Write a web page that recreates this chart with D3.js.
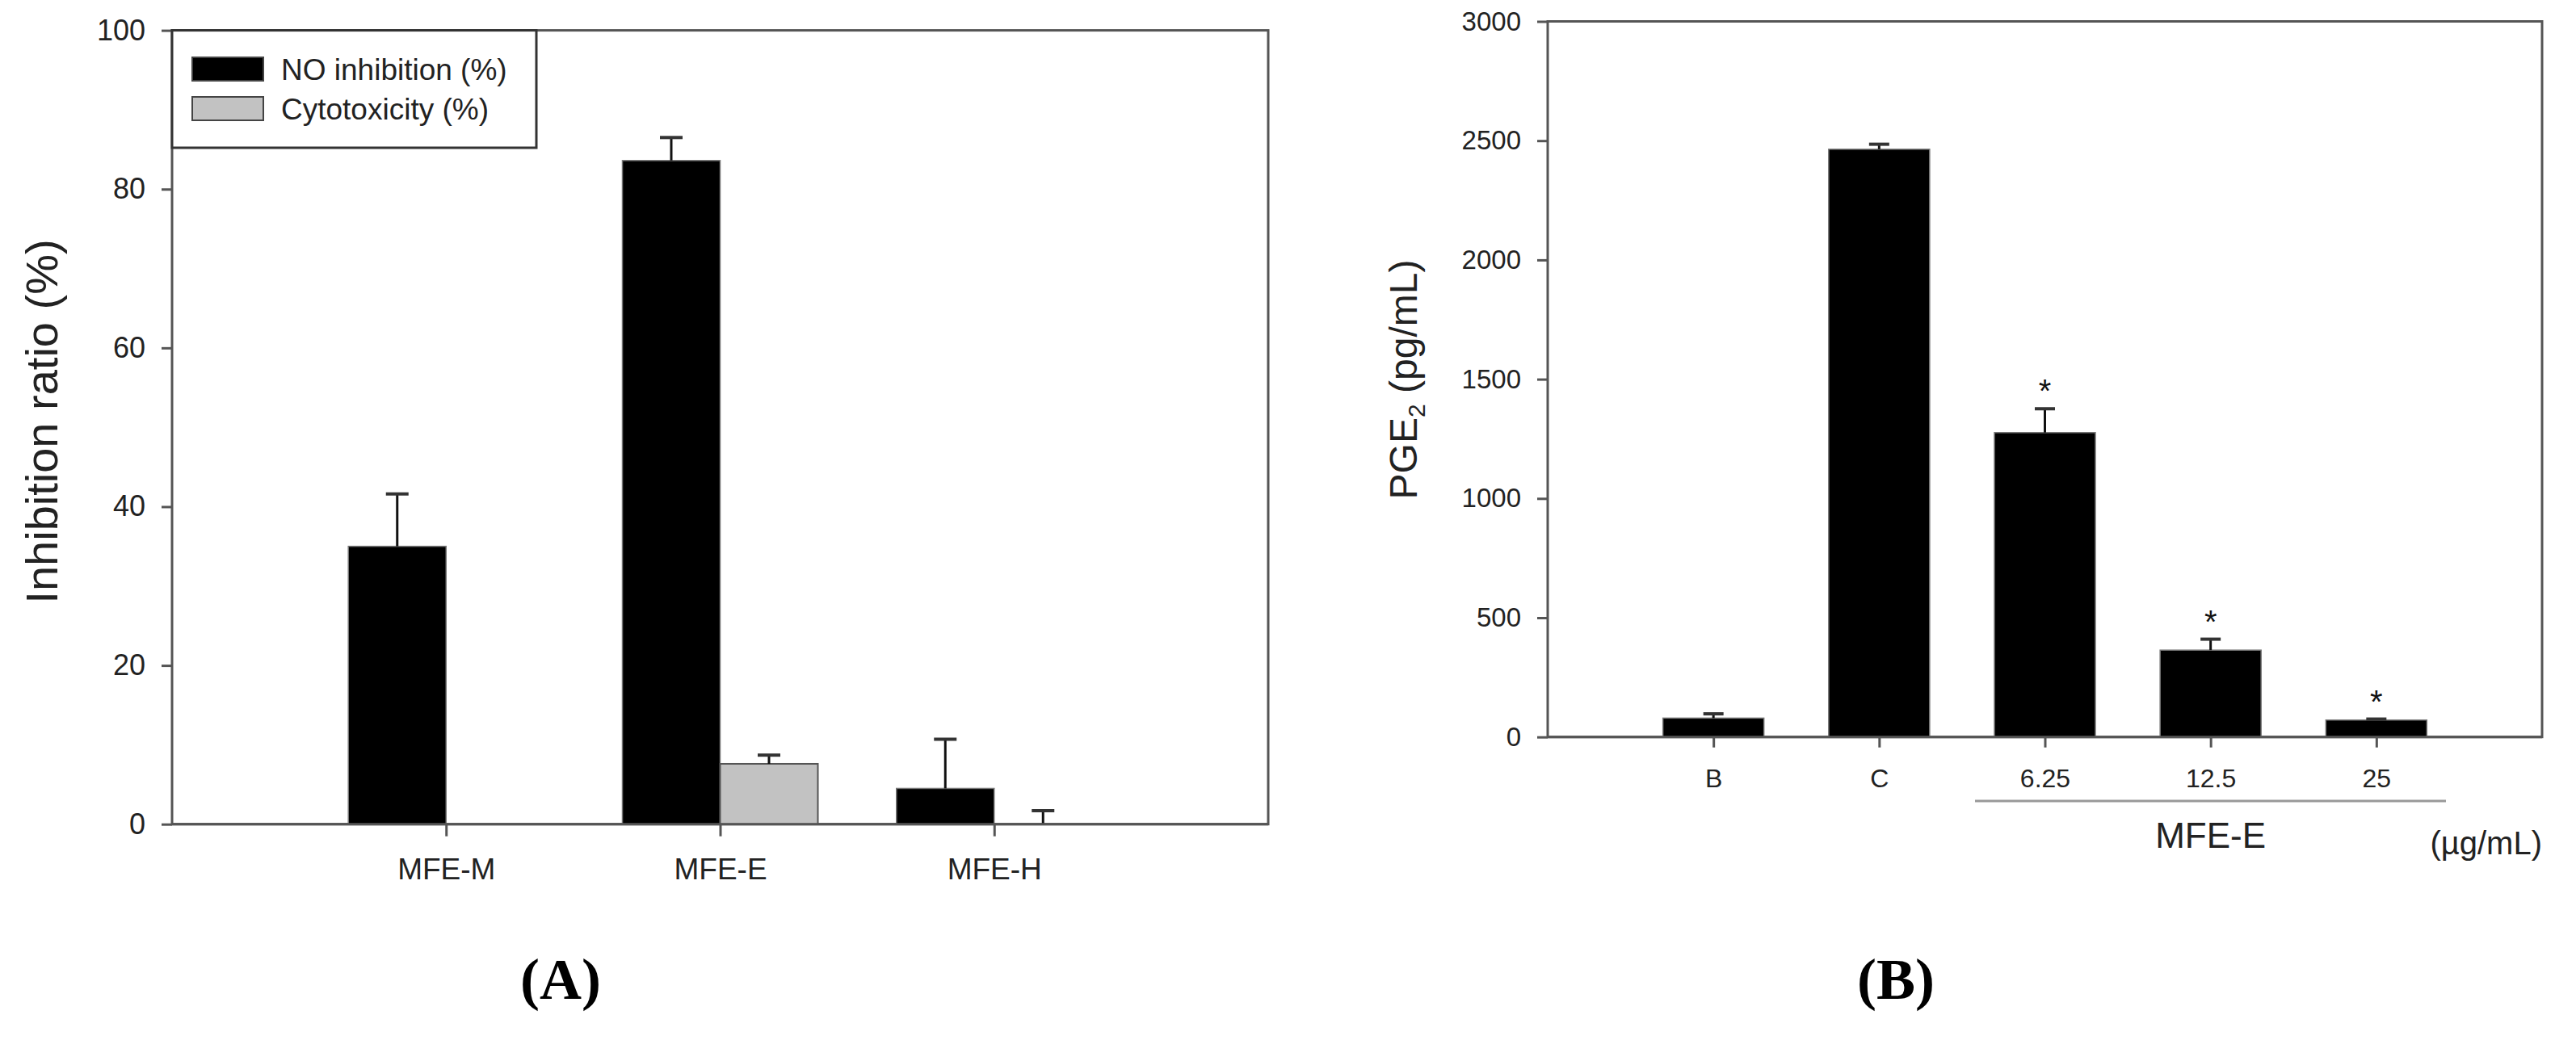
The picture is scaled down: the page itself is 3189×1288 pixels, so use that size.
<!DOCTYPE html>
<html>
<head>
<meta charset="utf-8">
<script src="https://cdn.jsdelivr.net/npm/d3@7"></script>
<style>
  html, body { margin: 0; padding: 0; background: #fff; }
  svg { display: block; }
</style>
</head>
<body>
<svg id="chart" width="3189" height="1288"></svg>
<script>
// ---------- Data: panel A ----------
const catsA = ["MFE-M", "MFE-E", "MFE-H"];
const noInhibition = [35.0, 83.6, 4.5];
const noInhibitionErr = [6.6, 2.9, 6.2];
const cytotoxicity = [0, 7.6, 0];
const cytotoxicityErr = [0, 1.1, 1.7];
const yTicksA = [0, 20, 40, 60, 80, 100];
const legendLabels = ["NO inhibition (%)", "Cytotoxicity (%)"];

// ---------- Data: panel B ----------
const catsB = ["B", "C", "6.25", "12.5", "25"];
const pge2 = [79, 2464, 1276, 364, 71];
const pge2Err = [18, 21, 100, 46, 4];
const significant = [false, false, true, true, true];
const yTicksB = [0, 500, 1000, 1500, 2000, 2500, 3000];

// ---------- Drawing ----------
const svg = d3.select("#chart");
const FONT = "'Liberation Sans', Arial, Helvetica, sans-serif";
const AXIS = "#555";
const BLACK_FILL = "#000";
const GRAY_FILL = "#c2c2c2";

function styleAxis(g, fontSize) {
  g.select(".domain").remove();
  g.selectAll(".tick line").attr("stroke", AXIS).attr("stroke-width", 3);
  g.selectAll(".tick text")
    .attr("fill", "#222")
    .style("font-family", FONT)
    .style("font-size", fontSize + "px");
}

// error bars (upper only)
function errBars(g, data, cx, y, vals, errs, capHalf) {
  data.forEach((d, i) => {
    if (errs[i] <= 0) return;
    const x = cx(d, i);
    g.append("line")
      .attr("x1", x).attr("x2", x)
      .attr("y1", y(vals[i])).attr("y2", y(vals[i] + errs[i]))
      .attr("stroke", "#111").attr("stroke-width", 3);
    g.append("line")
      .attr("x1", x - capHalf).attr("x2", x + capHalf)
      .attr("y1", y(vals[i] + errs[i])).attr("y2", y(vals[i] + errs[i]))
      .attr("stroke", "#333").attr("stroke-width", 4);
  });
}

// ===== Panel A =====
const A = { left: 213, right: 1570, top: 37.6, bottom: 1020.7 };
const xA = d3.scalePoint().domain(catsA).range([A.left, A.right]).padding(1);
const yA = d3.scaleLinear().domain([0, 100]).range([A.bottom, A.top]);
const barWA = 121;

const gA = svg.append("g");

gA.append("rect")
  .attr("x", A.left).attr("y", A.top)
  .attr("width", A.right - A.left).attr("height", A.bottom - A.top)
  .attr("fill", "none").attr("stroke", AXIS).attr("stroke-width", 3);

gA.selectAll("rect.no").data(catsA).enter().append("rect")
  .attr("class", "no")
  .attr("x", d => xA(d) - barWA)
  .attr("width", barWA)
  .attr("y", (d, i) => yA(noInhibition[i]))
  .attr("height", (d, i) => yA(0) - yA(noInhibition[i]))
  .attr("fill", BLACK_FILL).attr("stroke", "#777").attr("stroke-width", 1.5);

gA.selectAll("rect.cy").data(catsA).enter().append("rect")
  .attr("class", "cy")
  .attr("x", d => xA(d))
  .attr("width", barWA)
  .attr("y", (d, i) => yA(cytotoxicity[i]))
  .attr("height", (d, i) => yA(0) - yA(cytotoxicity[i]))
  .attr("fill", GRAY_FILL).attr("stroke", "#555").attr("stroke-width", 2)
  .style("display", (d, i) => cytotoxicity[i] > 0 ? null : "none");

errBars(gA, catsA, d => xA(d) - barWA / 2, yA, noInhibition, noInhibitionErr, 14);
errBars(gA, catsA, d => xA(d) + barWA / 2, yA, cytotoxicity, cytotoxicityErr, 14);

const axLA = gA.append("g").attr("transform", `translate(${A.left},0)`)
  .call(d3.axisLeft(yA).tickValues(yTicksA).tickFormat(d3.format("d"))
    .tickSize(13).tickSizeOuter(0).tickPadding(20));
styleAxis(axLA, 36);
const axBA = gA.append("g").attr("transform", `translate(0,${A.bottom})`)
  .call(d3.axisBottom(xA).tickSize(15).tickSizeOuter(0).tickPadding(27));
styleAxis(axBA, 37);

gA.append("line").attr("x1", A.left).attr("x2", A.right)
  .attr("y1", A.bottom).attr("y2", A.bottom)
  .attr("stroke", AXIS).attr("stroke-width", 3);

gA.append("text")
  .attr("transform", `translate(71, 522) rotate(-90)`)
  .attr("text-anchor", "middle")
  .style("font-family", FONT).style("font-size", "56px").attr("fill", "#222")
  .text("Inhibition ratio (%)");

// legend
const lg = gA.append("g");
lg.append("rect")
  .attr("x", A.left).attr("y", A.top)
  .attr("width", 664 - A.left).attr("height", 183 - A.top)
  .attr("fill", "#fff").attr("stroke", "#333").attr("stroke-width", 3);
const legFills = [BLACK_FILL, GRAY_FILL];
const legY = [71, 120];
legendLabels.forEach((lab, i) => {
  lg.append("rect").attr("x", 238).attr("y", legY[i]).attr("width", 88).attr("height", 29)
    .attr("fill", legFills[i]).attr("stroke", "#444").attr("stroke-width", 2);
  lg.append("text").attr("x", 348).attr("y", legY[i] + 28)
    .style("font-family", FONT).style("font-size", "37px").attr("fill", "#222")
    .text(lab);
});

svg.append("text").attr("x", 694).attr("y", 1237).attr("text-anchor", "middle")
  .style("font-family", "'Liberation Serif', 'Times New Roman', serif")
  .style("font-size", "72px").style("font-weight", "bold").attr("fill", "#000")
  .text("(A)");

// ===== Panel B =====
const B = { left: 1916, right: 3147, top: 26.5, bottom: 912.7 };
const xB = d3.scalePoint().domain(catsB).range([B.left, B.right]).padding(1);
const yB = d3.scaleLinear().domain([0, 3000]).range([B.bottom, B.top]);
const barWB = 125;

const gB = svg.append("g");
gB.append("rect")
  .attr("x", B.left).attr("y", B.top)
  .attr("width", B.right - B.left).attr("height", B.bottom - B.top)
  .attr("fill", "none").attr("stroke", AXIS).attr("stroke-width", 3);

gB.selectAll("rect.pg").data(catsB).enter().append("rect")
  .attr("class", "pg")
  .attr("x", d => xB(d) - barWB / 2)
  .attr("width", barWB)
  .attr("y", (d, i) => yB(pge2[i]))
  .attr("height", (d, i) => yB(0) - yB(pge2[i]))
  .attr("fill", BLACK_FILL).attr("stroke", "#777").attr("stroke-width", 1.5);

errBars(gB, catsB, d => xB(d), yB, pge2, pge2Err, 12.5);

catsB.forEach((d, i) => {
  if (!significant[i]) return;
  gB.append("text")
    .attr("x", xB(d)).attr("y", yB(pge2[i] + pge2Err[i]) - 8)
    .attr("text-anchor", "middle")
    .style("font-family", FONT).style("font-size", "40px").attr("fill", "#111")
    .text("*");
});

const axLB = gB.append("g").attr("transform", `translate(${B.left},0)`)
  .call(d3.axisLeft(yB).tickValues(yTicksB).tickFormat(d3.format("d"))
    .tickSize(13).tickSizeOuter(0).tickPadding(20));
styleAxis(axLB, 33);
const axBB = gB.append("g").attr("transform", `translate(0,${B.bottom})`)
  .call(d3.axisBottom(xB).tickSize(13).tickSizeOuter(0).tickPadding(27));
styleAxis(axBB, 32);

gB.append("line").attr("x1", B.left).attr("x2", B.right)
  .attr("y1", B.bottom).attr("y2", B.bottom)
  .attr("stroke", AXIS).attr("stroke-width", 3);

const tB = gB.append("text")
  .attr("transform", `translate(1754, 470) rotate(-90)`)
  .attr("text-anchor", "middle")
  .style("font-family", FONT).style("font-size", "48px").attr("fill", "#222");
tB.append("tspan").text("PGE");
tB.append("tspan").attr("dy", 10).style("font-size", "30px").text("2");
tB.append("tspan").attr("dy", -10).text(" (pg/mL)");

gB.append("line")
  .attr("x1", 2445).attr("x2", 3028).attr("y1", 992).attr("y2", 992)
  .attr("stroke", "#999").attr("stroke-width", 3);
gB.append("text").attr("x", xB("12.5")).attr("y", 1050).attr("text-anchor", "middle")
  .style("font-family", FONT).style("font-size", "44px").attr("fill", "#222")
  .text("MFE-E");
gB.append("text").attr("x", 3147).attr("y", 1058).attr("text-anchor", "end")
  .style("font-family", FONT).style("font-size", "40px").attr("fill", "#222")
  .text("(\u00b5g/mL)");

svg.append("text").attr("x", 2347).attr("y", 1237).attr("text-anchor", "middle")
  .style("font-family", "'Liberation Serif', 'Times New Roman', serif")
  .style("font-size", "72px").style("font-weight", "bold").attr("fill", "#000")
  .text("(B)");
</script>
</body>
</html>
